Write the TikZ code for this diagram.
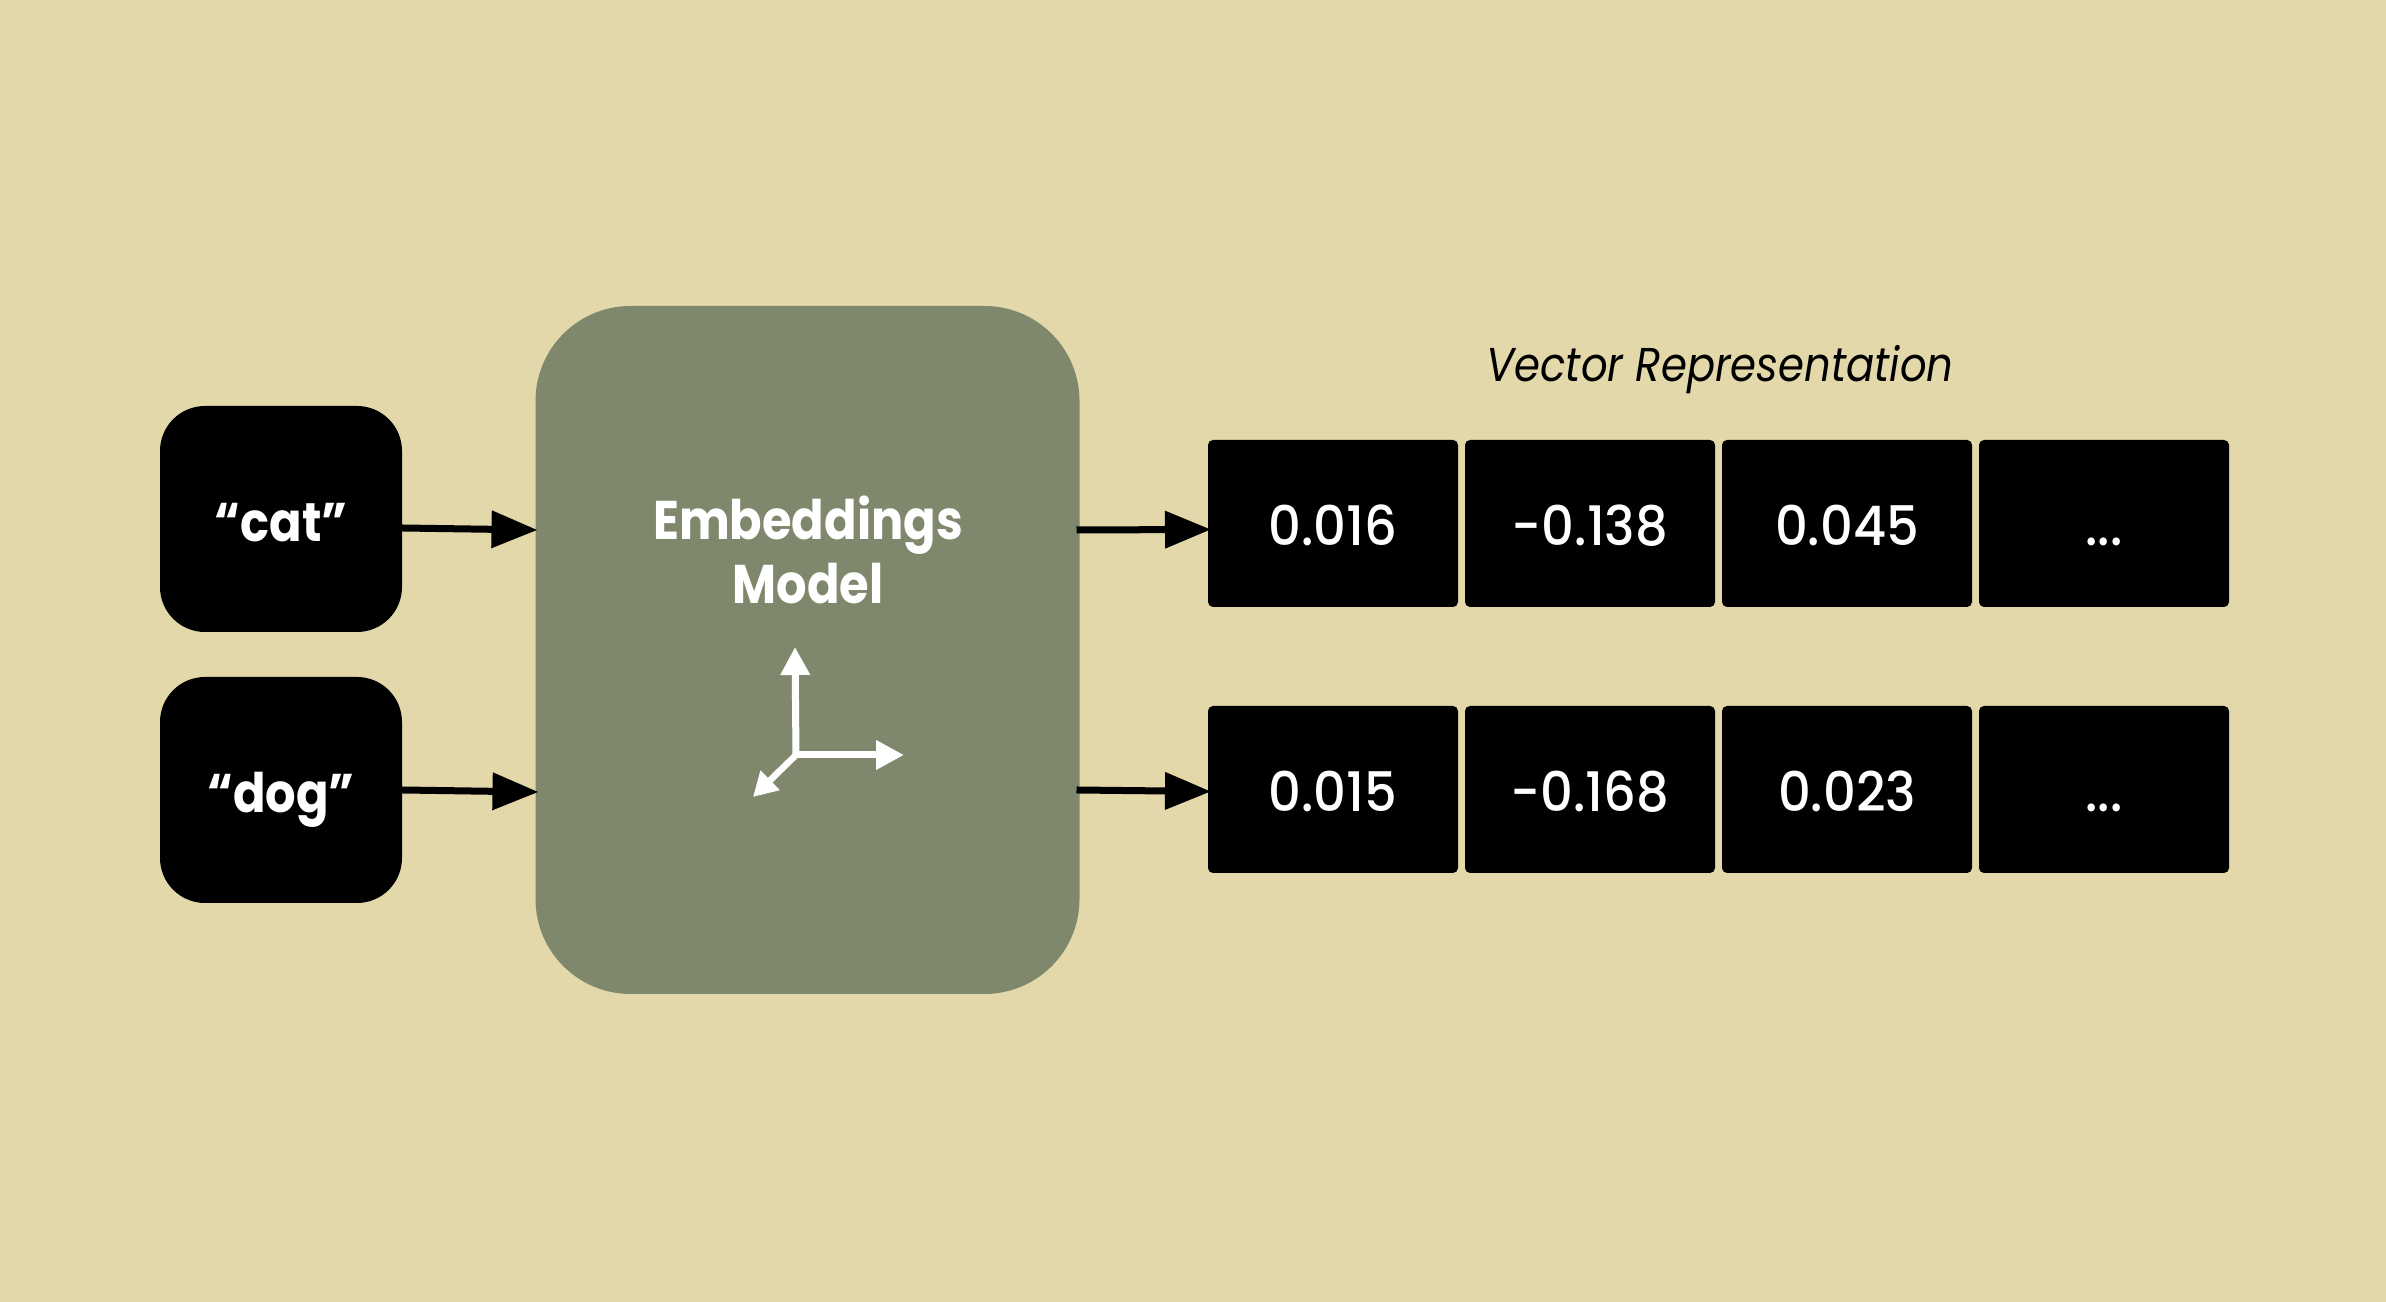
\documentclass[tikz,border=0pt]{standalone}
\usepackage{fontspec}
\setmainfont{Poppins}
\newfontfamily\wordfont[FakeStretch=0.88]{Poppins}
\newfontfamily\numfont[FakeStretch=0.94,UprightFont={* Medium}]{Poppins}
\usepackage{xcolor}
\usetikzlibrary{arrows.meta,calc,positioning}
\definecolor{sand}{HTML}{E3D8AA}
\definecolor{sage}{HTML}{7F886C}

\begin{document}
\begin{tikzpicture}[node distance=0.07cm,
  word/.style={fill=black,text=white,rounded corners=0.45cm,align=center,minimum width=2.42cm,
             minimum height=2.26cm,text height=0.46cm,text depth=0pt,outer sep=0pt,inner sep=0pt,
             font=\fontsize{15.5}{18}\wordfont\bfseries},
  cell/.style={fill=black,text=white,rounded corners=0.05cm,minimum width=2.5cm,minimum height=1.67cm,
             text height=0.44cm,text depth=0pt,outer sep=0pt,inner sep=0pt,
             font=\fontsize{15.5}{18}\numfont},
  flow/.style={-{Triangle[length=0.46cm,width=0.36cm]},line width=0.07cm,black},
  axis/.style={-{Triangle[length=0.28cm,width=0.28cm]},line width=0.07cm,white}]
  \fill[sand] (0,0) rectangle (23.86,13.02);
  \useasboundingbox (0,0) rectangle (23.86,13.02);
  \node[word] (cat) at (2.81,7.83) {“cat”};
  \node[word] (dog) at (2.81,5.12) {“dog”};
  \node[fill=sage,rounded corners=0.95cm,minimum width=5.44cm,minimum height=6.88cm,outer sep=0pt] (model) at (8.075,6.52) {};
  \node[text=white,align=center,font=\fontsize{15.5}{18.2}\wordfont\bfseries] (name) at (8.08,7.52) {Embeddings\\Model};
  \node[cell] (v1) at (13.33,7.785) {0.016};
  \node[cell,right=of v1] (v2) {-0.138};
  \node[cell,right=of v2] (v3) {0.045};
  \node[cell,right=of v3] (v4) {...};
  \node[cell] (w1) at (13.33,5.125) {0.015};
  \node[cell,right=of w1] (w2) {-0.168};
  \node[cell,right=of w2] (w3) {0.023};
  \node[cell,right=of w3] (w4) {...};
  \node[anchor=base,font=\fontsize{13.5}{16}\wordfont\itshape] (title) at (17.2,9.2) {Vector Representation};
  \draw[flow] ([yshift=-0.09cm]cat.east) -- ([xshift=0.02cm,yshift=1.2cm]model.west);
  \draw[flow] (dog.east) -- ([xshift=0.03cm,yshift=-1.42cm]model.west);
  \draw[flow] ([xshift=-0.03cm,yshift=1.2cm]model.east) -- ([xshift=0.03cm,yshift=-0.06cm]v1.west);
  \draw[flow] ([xshift=-0.03cm,yshift=-1.4cm]model.east) -- ([xshift=0.03cm,yshift=-0.02cm]w1.west);
  \coordinate (orig) at (7.96,5.47);
  \coordinate (up) at (7.95,6.55);
  \coordinate (side) at (9.04,5.47);
  \coordinate (down) at (7.53,5.05);
  \foreach \t in {up,side} \draw[axis] (orig) -- (\t);
  \draw[-{Triangle[length=0.24cm,width=0.26cm]},line width=0.065cm,white] (orig) -- (down);
\end{tikzpicture}
\end{document}
